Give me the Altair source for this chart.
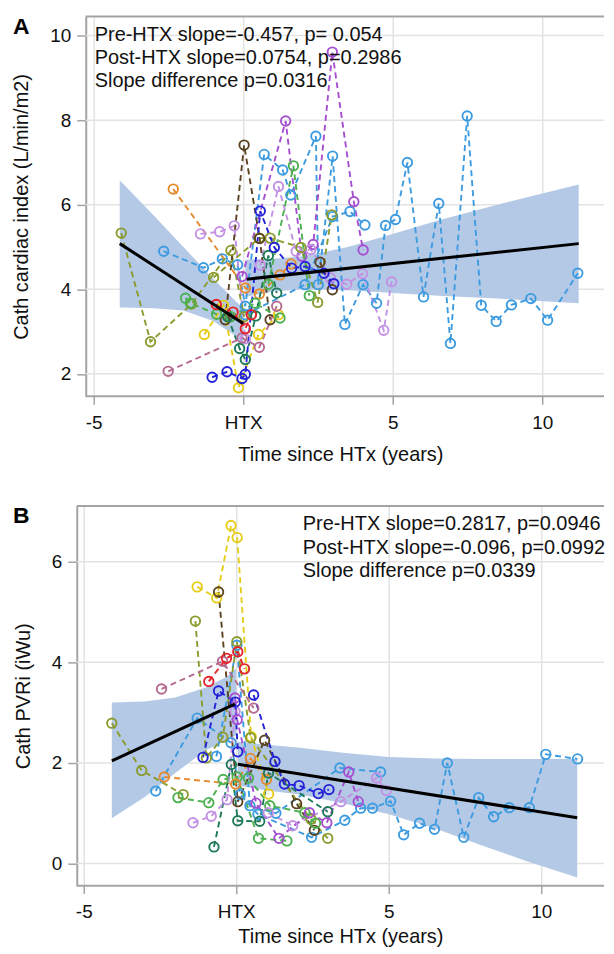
import altair as alt
import pandas as pd

FONT = "Liberation Sans, Arial, Helvetica, sans-serif"
BAND = "#b4c9e6"
FRAME = "#a3a3a3"
GRID = "#e3e3e3"

COLORS = {
    "lightblue": "#3d9be0",
    "darkblue": "#2222d6",
    "purple": "#a54fd0",
    "lavender": "#c391e4",
    "olive": "#8b9b2d",
    "yellow": "#e6cd1a",
    "orange": "#e68a2e",
    "red": "#e3242b",
    "brown": "#5b4322",
    "green": "#4caf50",
    "teal": "#1d7a57",
    "mauve": "#b56a90",
}

X_TICKS = [-5, 0, 5, 10]

# ---------------- Panel A: cardiac index ----------------
a_lightblue_1 = [(-2.66, 4.90), (-1.33, 4.51), (-0.70, 4.72), (-0.19, 4.58), (0.07, 3.60),
                 (0.70, 7.19), (1.32, 6.82), (1.59, 6.23), (2.43, 7.62), (2.51, 4.11),
                 (2.99, 7.15), (3.40, 3.17), (4.01, 4.11), (4.46, 3.67), (4.76, 5.51),
                 (5.09, 5.65), (5.49, 7.00), (6.03, 3.82), (6.54, 6.03), (6.93, 2.72),
                 (7.49, 8.10), (7.96, 3.62), (8.46, 3.24), (8.97, 3.63), (9.62, 3.78),
                 (10.18, 3.27), (11.19, 4.38)]
a_lightblue_2 = [(0.07, 3.40), (2.07, 4.11), (2.99, 5.72), (3.57, 5.84), (4.07, 5.52)]
a_purple = [(-0.04, 4.30), (1.42, 7.98), (1.96, 4.78), (2.34, 5.06), (2.98, 9.61),
            (3.70, 6.07), (4.01, 4.93)]
a_lavender_1 = [(-1.43, 5.31), (-0.79, 5.36), (-0.30, 5.50), (0.07, 2.83)]
a_lavender_2 = [(0.57, 4.57), (1.18, 6.43), (1.77, 4.90), (2.26, 4.94), (2.91, 4.27),
                (3.46, 4.12), (3.99, 4.37), (4.70, 3.03), (4.96, 4.18)]
a_olive_1 = [(-4.08, 5.33), (-3.10, 2.76), (-1.73, 3.65), (-0.41, 4.92), (0.03, 3.35)]
a_olive_2 = [(-0.99, 4.28), (0.53, 5.21), (0.90, 5.21), (1.93, 4.99), (2.49, 3.69), (2.96, 5.76)]
a_orange = [(-2.34, 6.37), (0.07, 4.03), (0.54, 3.89), (1.23, 4.34), (1.60, 4.60)]
a_red = [(-0.90, 3.64), (-0.34, 3.46), (0.07, 3.07), (0.27, 3.40)]
a_brown_1 = [(-0.60, 3.28), (0.03, 7.41), (0.55, 5.20), (0.90, 3.28)]
a_brown_2 = [(2.57, 4.64), (2.98, 3.99)]
a_blue = [(-1.04, 1.92), (-0.54, 2.05), (-0.04, 1.89), (0.07, 1.99), (0.57, 5.85),
          (1.04, 4.99), (1.62, 4.50), (2.07, 4.54), (2.70, 4.38), (3.03, 4.13)]
a_yellow = [(-1.30, 2.93), (-0.66, 3.62), (-0.16, 1.67), (0.51, 2.93), (1.18, 3.40)]
a_green_1 = [(-1.93, 3.79), (-1.77, 3.67), (-0.89, 3.41), (-0.42, 3.35), (0.40, 3.67), (1.23, 3.32)]
a_green_2 = [(0.84, 4.12), (1.68, 6.92), (2.21, 3.85)]
a_teal = [(-0.52, 3.35), (-0.12, 2.60), (0.07, 2.34), (0.42, 3.37), (0.84, 4.80), (1.12, 3.91)]
a_mauve = [(-2.51, 2.06), (-0.04, 2.85), (0.54, 2.63), (1.12, 3.60)]

A_SERIES = [("lightblue", a_lightblue_1), ("lightblue", a_lightblue_2), ("purple", a_purple),
            ("lavender", a_lavender_1), ("lavender", a_lavender_2), ("olive", a_olive_1),
            ("olive", a_olive_2), ("orange", a_orange), ("brown", a_brown_1), ("brown", a_brown_2),
            ("yellow", a_yellow), ("green", a_green_1), ("green", a_green_2), ("teal", a_teal),
            ("mauve", a_mauve), ("darkblue", a_blue), ("red", a_red)]

a_fit_pre_x = [-4.13, 0.0]
a_fit_pre_y = [5.08, 3.19]
a_fit_post_x = [0.12, 11.22]
a_fit_post_y = [4.24, 5.08]

a_band_pre_x = [-4.13, -3.0, -2.0, -1.0, -0.3, 0.0]
a_band_pre_lo = [3.57, 3.55, 3.50, 3.25, 2.92, 2.65]
a_band_pre_hi = [6.58, 5.75, 5.00, 4.25, 3.75, 3.55]
a_band_post_x = [0.07, 1.0, 2.0, 3.5, 5.0, 6.54, 8.5, 11.22]
a_band_post_lo = [3.82, 3.95, 4.00, 3.98, 3.91, 3.85, 3.78, 3.67]
a_band_post_hi = [4.70, 4.72, 4.78, 5.00, 5.31, 5.63, 6.00, 6.48]

a_y_ticks = [2, 4, 6, 8, 10]
a_notes = ["Pre-HTX slope=-0.457, p= 0.054",
           "Post-HTX slope=0.0754, p=0.2986",
           "Slope difference p=0.0316"]

# ---------------- Panel B: PVRi ----------------
b_lightblue_1 = [(-2.64, 1.44), (-1.28, 2.89), (-0.17, 2.40), (0.13, 1.37), (0.71, 0.98),
                 (2.47, 0.52), (3.56, 0.86), (4.08, 1.10), (4.47, 1.10), (5.06, 1.24),
                 (5.49, 0.57), (6.01, 0.80), (6.50, 0.68), (6.92, 2.00), (7.46, 0.52),
                 (7.95, 1.31), (8.44, 0.93), (8.95, 1.11), (9.61, 1.11), (10.15, 2.17),
                 (11.19, 2.08)]
b_lightblue_2 = [(-0.65, 2.13), (0.02, 4.34), (0.45, 1.15), (1.30, 1.00), (3.40, 1.90), (4.73, 1.82)]
b_yellow = [(-1.28, 5.50), (-0.64, 5.28), (-0.17, 6.72), (0.03, 6.48), (0.49, 2.52), (1.06, 1.38)]
b_brown = [(-0.58, 5.40), (0.05, 1.23), (0.93, 2.45), (1.98, 1.19), (2.56, 0.66)]
b_olive_1 = [(-4.08, 2.79), (-3.10, 1.85), (-1.74, 1.37)]
b_olive_2 = [(-1.34, 4.82), (-0.98, 2.10), (-0.44, 2.51), (0.02, 4.41), (0.47, 2.50),
             (2.45, 0.88), (3.00, 0.50)]
b_green_1 = [(-1.91, 1.31), (-0.90, 1.21), (-0.43, 1.67), (0.03, 1.72), (0.73, 0.50), (1.66, 0.45)]
b_green_2 = [(0.40, 1.70), (1.10, 1.15), (2.25, 1.01), (2.60, 0.80)]
b_red = [(-0.90, 3.62), (-0.32, 4.08), (0.05, 4.21), (0.27, 3.87)]
b_mauve = [(-2.45, 3.47), (-0.45, 4.02), (0.57, 3.09)]
b_blue_1 = [(-1.09, 2.11), (-0.58, 3.43), (-0.03, 3.21), (0.05, 2.22)]
b_blue_2 = [(0.57, 3.35), (1.27, 2.03), (1.58, 1.58), (2.06, 1.55), (2.69, 1.39), (3.04, 1.47)]
b_orange = [(-2.36, 1.72), (-0.02, 1.58), (0.47, 2.09), (0.99, 1.67)]
b_teal = [(-0.73, 0.33), (-0.16, 1.97), (0.05, 0.85), (0.77, 0.84), (1.06, 1.80), (3.00, 1.03)]
b_lavender_1 = [(-1.42, 0.81), (-0.82, 0.94), (-0.30, 1.27), (-0.04, 3.02)]
b_lavender_2 = [(1.05, 1.01), (1.85, 0.75), (3.43, 1.23), (4.60, 1.70), (4.92, 1.45)]
b_purple = [(-0.04, 3.29), (0.03, 2.86), (0.65, 1.20), (1.40, 0.50), (2.40, 1.01),
            (2.97, 0.81), (3.69, 1.82), (4.00, 1.23)]

B_SERIES = [("lightblue", b_lightblue_1), ("lightblue", b_lightblue_2), ("yellow", b_yellow),
            ("brown", b_brown), ("olive", b_olive_1), ("olive", b_olive_2), ("green", b_green_1),
            ("green", b_green_2), ("mauve", b_mauve), ("orange", b_orange), ("teal", b_teal),
            ("lavender", b_lavender_1), ("lavender", b_lavender_2), ("purple", b_purple),
            ("darkblue", b_blue_1), ("darkblue", b_blue_2), ("red", b_red)]

b_fit_pre_x = [-4.08, -0.05]
b_fit_pre_y = [2.04, 3.17]
b_fit_post_x = [0.05, 11.18]
b_fit_post_y = [1.975, 0.91]

b_band_pre_x = [-4.08, -3.0, -2.0, -1.0, -0.3, 0.0]
b_band_pre_lo = [0.90, 1.32, 1.80, 2.25, 2.45, 2.55]
b_band_pre_hi = [3.20, 3.22, 3.30, 3.50, 3.72, 3.88]
b_band_post_x = [0.05, 1.0, 2.09, 3.5, 5.0, 6.5, 7.97, 9.5, 11.18]
b_band_post_lo = [1.55, 1.45, 1.37, 1.20, 0.98, 0.70, 0.38, 0.05, -0.28]
b_band_post_hi = [2.42, 2.36, 2.30, 2.20, 2.12, 2.09, 2.08, 2.08, 2.08]

b_y_ticks = [0, 2, 4, 6]
b_notes = ["Pre-HTX slope=0.2817, p=0.0946",
           "Post-HTX slope=-0.096, p=0.0992",
           "Slope difference p=0.0339"]


def series_frame(series, prefix):
    rows = []
    for i, (cname, pts) in enumerate(series):
        for j, (x, y) in enumerate(pts):
            rows.append({"sid": f"{prefix}{i}", "col": COLORS[cname], "ord": j, "x": x, "y": y})
    return pd.DataFrame(rows)


def band_frame(px, plo, phi, qx, qlo, qhi):
    rows = [{"seg": "pre", "x": x, "lo": lo, "hi": hi} for x, lo, hi in zip(px, plo, phi)]
    rows += [{"seg": "post", "x": x, "lo": lo, "hi": hi} for x, lo, hi in zip(qx, qlo, qhi)]
    return pd.DataFrame(rows)


def fit_frame(px, py, qx, qy):
    rows = [{"seg": "pre", "ord": i, "x": x, "y": y} for i, (x, y) in enumerate(zip(px, py))]
    rows += [{"seg": "post", "ord": i, "x": x, "y": y} for i, (x, y) in enumerate(zip(qx, qy))]
    return pd.DataFrame(rows)


def panel(sdf, bdf, fdf, xdom, ydom, yvals, ytitle, W, H, notes, note_x, letter,
          inset, x_title_pad):
    """inset: pixels between the plot-area origin and the visible left frame."""
    xs = alt.Scale(domain=xdom, nice=False, zero=False)
    ys = alt.Scale(domain=ydom, nice=False, zero=False)
    xaxis = alt.Axis(values=X_TICKS, title="Time since HTx (years)", domain=False,
                     titlePadding=x_title_pad,
                     labelExpr="datum.value == 0 ? 'HTX' : '' + datum.value")
    yaxis = alt.Axis(values=yvals, title=ytitle, grid=False, offset=-inset)
    one = pd.DataFrame({"l": [letter]})
    grid = alt.Chart(pd.DataFrame({"v": yvals})).mark_rule(color=GRID, strokeWidth=1.5).encode(
        y=alt.Y("v:Q", scale=ys, axis=yaxis), x=alt.value(inset), x2=alt.value(W))
    band = alt.Chart(bdf).mark_area(color=BAND, opacity=1, clip=True).encode(
        x=alt.X("x:Q", scale=xs, axis=xaxis),
        y=alt.Y("lo:Q"),
        y2="hi:Q",
        detail="seg:N",
    )
    lines = alt.Chart(sdf).mark_line(strokeDash=[6, 4], strokeWidth=1.9, clip=True).encode(
        x="x:Q", y="y:Q", color=alt.Color("col:N", scale=None), detail="sid:N",
        order=alt.Order("ord:Q"))
    pts = alt.Chart(sdf).mark_point(shape="circle", filled=False, size=90, strokeWidth=1.9,
                                    clip=True, opacity=1).encode(
        x="x:Q", y="y:Q", color=alt.Color("col:N", scale=None))
    fit = alt.Chart(fdf).mark_line(color="black", strokeWidth=3).encode(
        x="x:Q", y="y:Q", detail="seg:N", order=alt.Order("ord:Q"))
    top = alt.Chart(one).mark_rule(color=FRAME, strokeWidth=2).encode(
        x=alt.value(inset), x2=alt.value(W), y=alt.value(0))
    bottom = alt.Chart(one).mark_rule(color=FRAME, strokeWidth=2).encode(
        x=alt.value(inset), x2=alt.value(W), y=alt.value(H))
    layers = [grid, band, lines, pts, fit, top, bottom]
    for k, line in enumerate(notes):
        layers.append(
            alt.Chart(one).mark_text(align="left", baseline="alphabetic", fontSize=20, font=FONT,
                                     color="#111111", text=line).encode(
                x=alt.value(note_x), y=alt.value(24.5 + 23.3 * k)))
    layers.append(
        alt.Chart(one).mark_text(align="left", baseline="alphabetic", fontSize=23, font=FONT,
                                 fontWeight="bold", color="#000000").encode(
            x=alt.value(-64), y=alt.value(17.3), text="l:N"))
    return alt.layer(*layers).properties(width=W, height=H)


W = 529
chart_a = panel(series_frame(A_SERIES, "a"),
                band_frame(a_band_pre_x, a_band_pre_lo, a_band_pre_hi,
                           a_band_post_x, a_band_post_lo, a_band_post_hi),
                fit_frame(a_fit_pre_x, a_fit_pre_y, a_fit_post_x, a_fit_post_y),
                [-5.567, -5.567 + W / 30.0], [1.47, 10.45], a_y_ticks,
                "Cath cardiac index (L/min/m2)", W, 381, a_notes, 18, "A", 9, 12)

chart_b = panel(series_frame(B_SERIES, "b"),
                band_frame(b_band_pre_x, b_band_pre_lo, b_band_pre_hi,
                           b_band_post_x, b_band_post_lo, b_band_post_hi),
                fit_frame(b_fit_pre_x, b_fit_pre_y, b_fit_post_x, b_fit_post_y),
                [-5.229, -5.229 + W / 30.6], [-0.44, 7.11], b_y_ticks,
                "Cath PVRi (iWu)", W, 381, b_notes, 226.7, "B", 0, 5)

chart = alt.concat(chart_a, chart_b, columns=1, spacing=39).properties(
    padding={"left": 3, "top": 5, "right": 0, "bottom": 0},
).configure_view(stroke="transparent").configure_axis(
    domainColor=FRAME, domainWidth=2, tickColor=FRAME, tickSize=8, tickWidth=1.5,
    gridColor=GRID, gridWidth=1.5,
    labelFont=FONT, titleFont=FONT, labelFontSize=19, titleFontSize=20,
    labelColor="#111111", titleColor="#111111", titleFontWeight="normal",
).configure_axisX(labelPadding=9).configure_axisY(tickSize=9, labelPadding=6, titlePadding=18)

chart.save("out.html", embed_options={"renderer": "svg", "actions": False})
